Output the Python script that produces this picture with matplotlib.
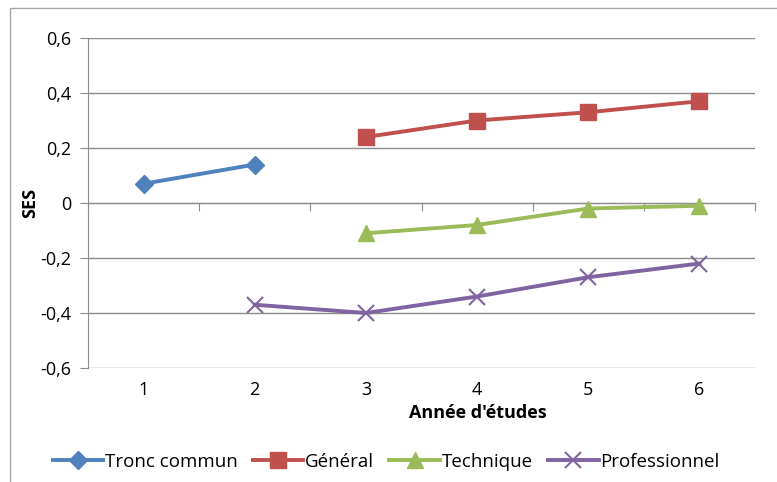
import matplotlib
matplotlib.use("Agg")
import matplotlib.pyplot as plt
from matplotlib.patches import Rectangle
from matplotlib.ticker import FuncFormatter
import matplotlib.transforms as mtransforms

plt.rcParams["font.family"] = ["Open Sans", "DejaVu Sans"]

# data
years = [1, 2, 3, 4, 5, 6]
tronc_x = [1, 2]
tronc_y = [0.07, 0.14]
general_x = [3, 4, 5, 6]
general_y = [0.24, 0.30, 0.33, 0.37]
technique_x = [3, 4, 5, 6]
technique_y = [-0.11, -0.08, -0.02, -0.01]
pro_x = [2, 3, 4, 5, 6]
pro_y = [-0.37, -0.40, -0.34, -0.27, -0.22]
y_ticks = [-0.6, -0.4, -0.2, 0.0, 0.2, 0.4, 0.6]

GRID = "#8c8c8c"

fig = plt.figure(figsize=(7.77, 4.82), dpi=100)
fig.patches.append(Rectangle((10 / 777, -0.1), 1.0, 1.1 - 8 / 482,
                             transform=fig.transFigure, fill=False,
                             edgecolor="#a6a6a6", linewidth=1.0))
ax = fig.add_axes([88 / 777, 1 - 368 / 482, (755 - 88) / 777, (368 - 38) / 482])

ax.plot(tronc_x, tronc_y, color="#4F81BD", lw=2.8, marker="D", ms=9.5,
        label="Tronc commun", zorder=3)
ax.plot(general_x, general_y, color="#C0504D", lw=2.8, marker="s", ms=11,
        label="Général", zorder=3)
ax.plot(technique_x, technique_y, color="#9BBB59", lw=2.8, marker="^", ms=12,
        label="Technique", zorder=3)
ax.plot(pro_x, pro_y, color="#8064A2", lw=2.8, marker="x", ms=11, mew=1.5,
        label="Professionnel", zorder=3)

ax.set_xlim(0.5, 6.5)
ax.set_ylim(-0.6, 0.6)
ax.set_yticks(y_ticks)
ax.yaxis.set_major_formatter(FuncFormatter(
    lambda v, _: "0" if abs(v) < 1e-9 else f"{v:.1f}".replace(".", ",")))
ax.grid(axis="y", color=GRID, lw=1.0, zorder=0)
ax.tick_params(axis="y", length=6, color=GRID, labelsize=13, pad=6)

for s in ["top", "right"]:
    ax.spines[s].set_visible(False)
ax.spines["left"].set_color(GRID)
ax.spines["bottom"].set_position(("data", 0))
ax.spines["bottom"].set_color(GRID)

# category boundaries as ticks on the zero line, labels at the bottom
ax.set_xticks([y + 0.5 for y in [0] + years])
ax.set_xticklabels([])
ax.tick_params(axis="x", length=6, color=GRID, direction="out")
trans = mtransforms.blended_transform_factory(ax.transData, ax.transAxes)
for y in years:
    ax.text(y, -0.04, str(y), transform=trans, ha="center", va="top", fontsize=13)

ax.text(0.585, -0.11, "Année d'études", transform=ax.transAxes, ha="center",
        va="top", fontsize=13, fontweight="bold")
ax.text(-0.087, 0.5, "SES", transform=ax.transAxes, ha="center", va="center",
        rotation=90, fontsize=13, fontweight="bold")

ax.legend(loc="center", bbox_to_anchor=(0.447, -0.285), ncol=4, frameon=False,
          fontsize=13.5, handlelength=2.7, handletextpad=0.1, columnspacing=0.8,
          borderaxespad=0)

fig.savefig("out.png", dpi=100)
